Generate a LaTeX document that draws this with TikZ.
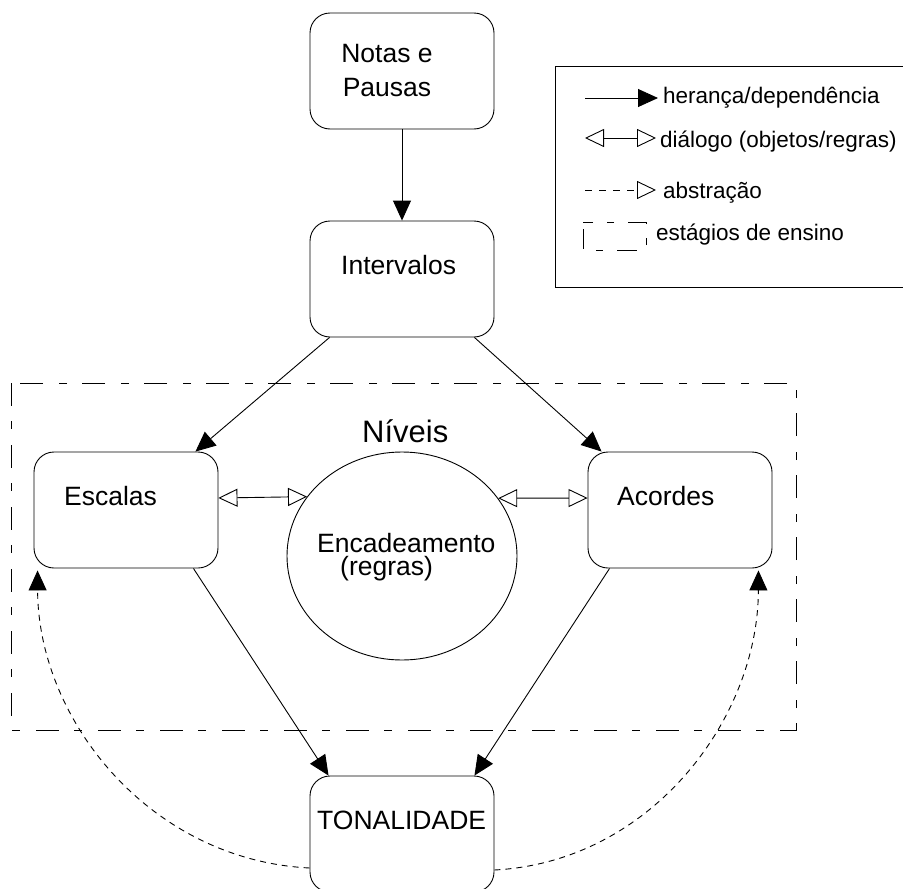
\documentclass[tikz,border=0pt]{standalone}
\usepackage{fontspec}
\setmainfont{Liberation Sans}
\usetikzlibrary{arrows.meta,shapes.geometric}
\tikzset{
  box/.style={draw,line width=0.9pt,rounded corners=20pt,minimum width=184pt,minimum height=116pt,inner sep=0pt},
  lbl/.style={inner sep=0pt,font=\fontsize{26.5}{34}\selectfont},
  leg/.style={inner sep=0pt,anchor=base west,font=\fontsize{22.5}{27}\selectfont},
  dep/.style={line width=0.9pt,-{Triangle[length=20pt,width=18pt]}},
  dlg/.style={line width=0.9pt,{Triangle[open,length=19pt,width=18pt]}-{Triangle[open,length=19pt,width=18pt]}},
  absl/.style={line width=0.9pt,dash pattern=on 6pt off 5pt,-{Triangle[length=20pt,width=18pt]}},
  absleg/.style={line width=0.9pt,dash pattern=on 7pt off 7pt,-{Triangle[open,length=19pt,width=18pt]}},
  stagebox/.style={line width=0.9pt,dash pattern=on 23pt off 15pt on 8pt off 16pt},
}
\begin{document}
\begin{tikzpicture}[x=1pt,y=-1pt]
\useasboundingbox (0,0) rectangle (903,889);
% stages frame
\draw[stagebox] (11,383) rectangle (796,730);
% boxes
\node[box] (notas) at (402,71) {};
\node[box] (int) at (402,279) {};
\node[box] (esc) at (126,510) {};
\node[box] (aco) at (680,510) {};
\node[box] (ton) at (402,834) {};
\node[draw,line width=0.9pt,ellipse,minimum width=230pt,minimum height=208pt,inner sep=0pt] (circ) at (402,556) {};
% texts
\node[lbl,align=center,anchor=north] (tnotas) at (387,44) {Notas e\\Pausas};
\node[lbl,anchor=base west] (tint) at (341,274) {Intervalos};
\node[lbl,anchor=base west] (tesc) at (64,505) {Escalas};
\node[lbl,anchor=base west] (taco) at (617,505) {Acordes};
\node[lbl,anchor=base west] (tton) at (317,829) {TONALIDADE};
\node[inner sep=0pt,anchor=base west,font=\fontsize{31}{36}\selectfont] (tniv) at (362,442) {Níveis};
\node[inner sep=0pt,align=left,anchor=north west,font=\fontsize{26.5}{23}\selectfont] (tenc) at (317,533) {Encadeamento\\\hspace*{23pt}(regras)};
% connectors
\draw[dep] (notas.south) -- (int.north);
\draw[dep] ([xshift=20pt]int.south west) -- ([xshift=-23pt]esc.north east);
\draw[dep] ([xshift=-20pt]int.south east) -- ([xshift=14pt]aco.north west);
\draw[dep] ([xshift=-25pt]esc.south east) -- ([xshift=19pt]ton.north west);
\draw[dep] ([xshift=22pt]aco.south west) -- ([xshift=-20pt]ton.north east);
\draw[dlg] ([yshift=12pt]esc.east) -- (circ.148.7);
\draw[dlg] (circ.31.3) -- ([yshift=12pt]aco.west);
\draw[absl] ([yshift=-34pt]ton.west) .. controls (150,860) and (38,720) .. ([xshift=4pt,yshift=-2pt]esc.south west);
\draw[absl] ([yshift=-36pt]ton.east) .. controls (650,862) and (758,720) .. ([xshift=-14pt,yshift=-2pt]aco.south east);
% legend
\draw[line width=0.9pt] (555,66) rectangle (905,287);
\coordinate (l1a) at (585,98); \coordinate (l1b) at (658,98);
\coordinate (l2a) at (585,138); \coordinate (l2b) at (656,138);
\coordinate (l3a) at (585,190); \coordinate (l3b) at (656,190);
\draw[dep] (l1a) -- (l1b);
\draw[dlg] (l2a) -- (l2b);
\draw[absleg] (l3a) -- (l3b);
\draw[line width=0.9pt,dash pattern=on 20pt off 14pt on 7pt off 14pt,dash phase=-7pt] (583,222) rectangle (646,250);
\node[leg] (g1) at (663,103) {herança/dependência};
\node[leg] (g2) at (660,147) {diálogo (objetos/regras)};
\node[leg] (g3) at (663,198) {abstração};
\node[leg] (g4) at (656,240) {estágios de ensino};
\end{tikzpicture}
\end{document}
